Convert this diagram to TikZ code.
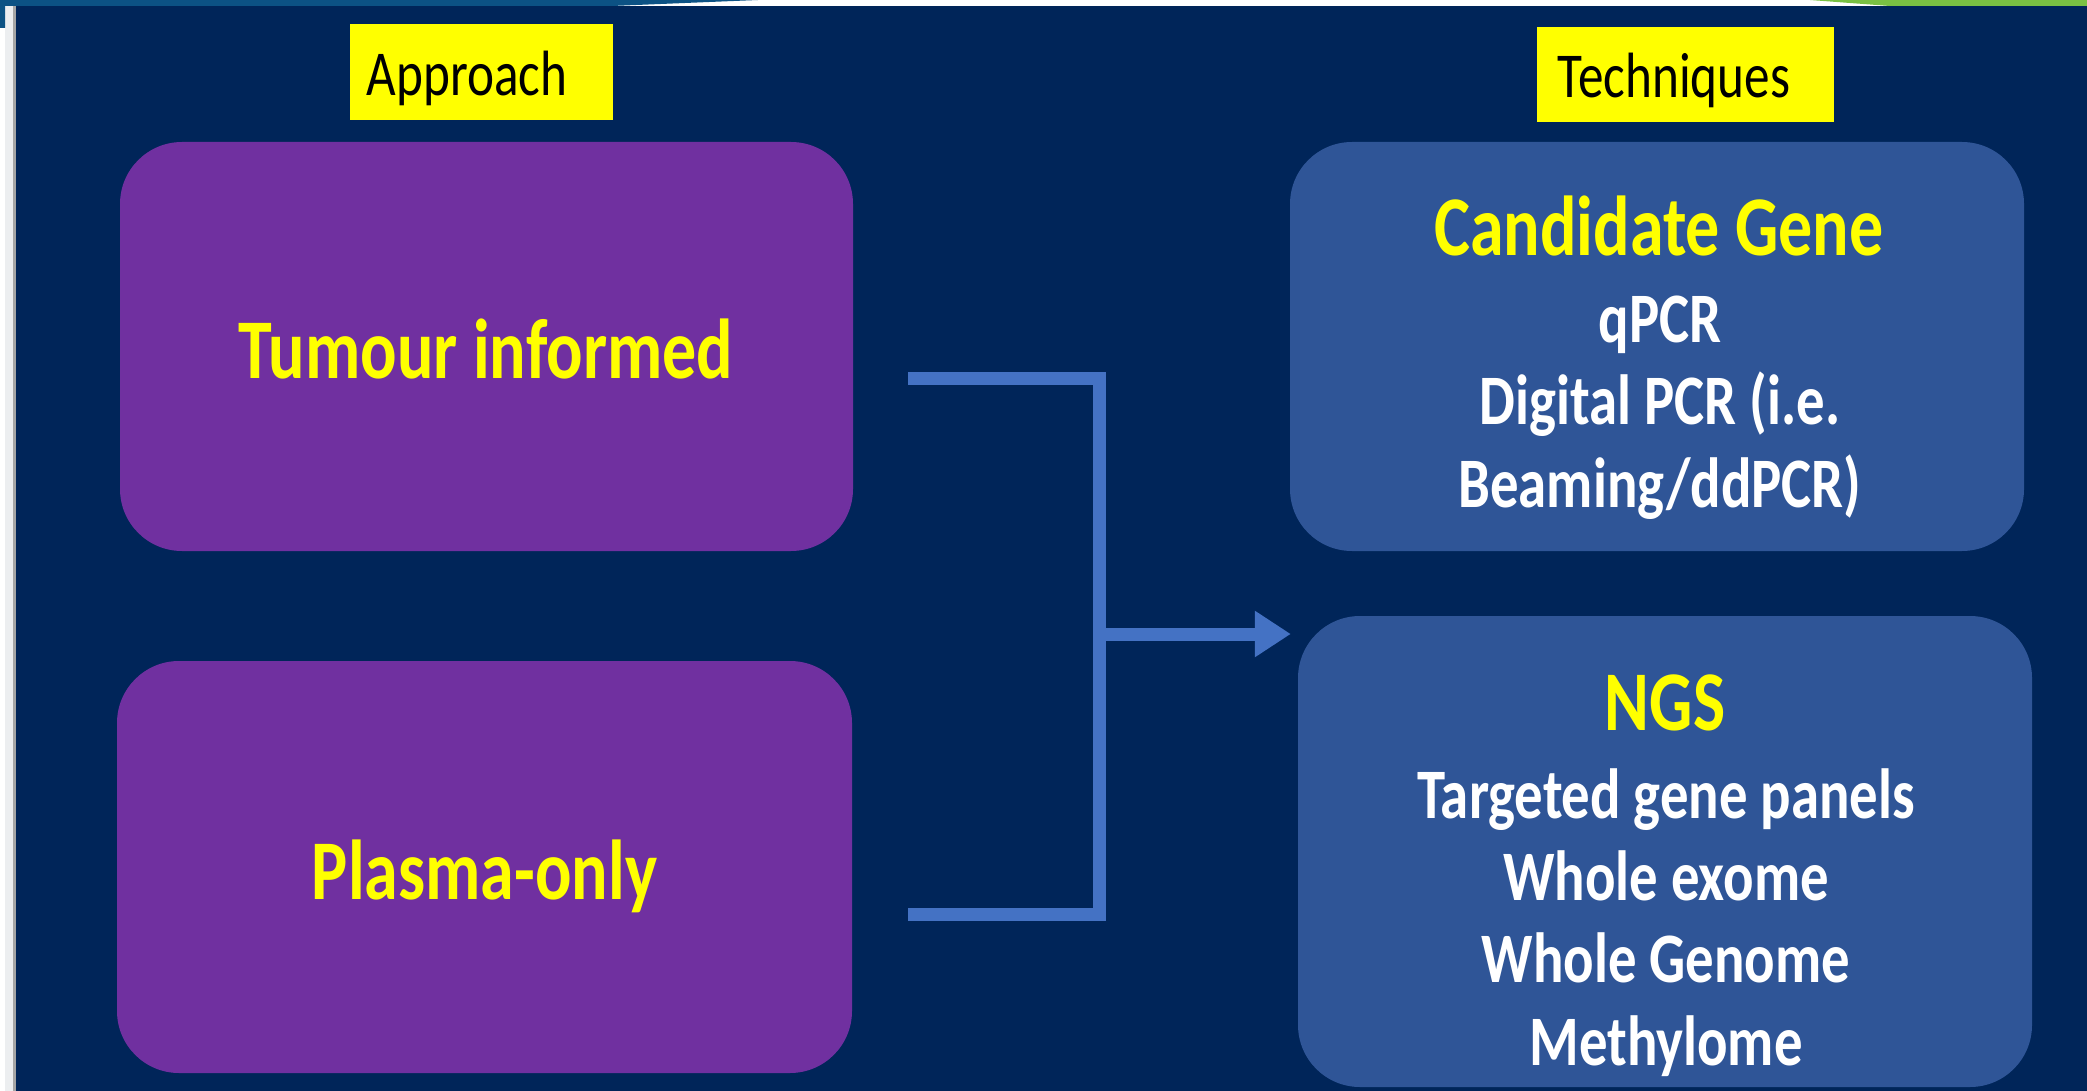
\documentclass[tikz,border=0pt]{standalone}
\usepackage{fontspec}
\setmainfont{Carlito}[FakeStretch=0.8]
\usetikzlibrary{arrows.meta,calc}

\definecolor{navybg}{RGB}{0,37,89}
\definecolor{bandblue}{RGB}{12,82,132}
\definecolor{bandgreen}{RGB}{122,193,67}
\definecolor{edgestrip}{RGB}{236,238,240}
\definecolor{approachpurple}{RGB}{112,48,160}
\definecolor{techblue}{RGB}{47,85,151}
\definecolor{linkblue}{RGB}{68,114,196}
\definecolor{hiyellow}{RGB}{255,255,0}

\tikzset{
  panel/.style={rounded corners=62pt, inner sep=0pt, draw=none},
  approachbox/.style={panel, fill=approachpurple},
  techbox/.style={panel, fill=techblue},
  tagbox/.style={fill=hiyellow, inner sep=0pt, draw=none},
  tagtext/.style={anchor=base, inner sep=0pt, text=black,
    font=\fontsize{64}{70}\selectfont},
  headtext/.style={anchor=base, inner sep=0pt, text=hiyellow,
    font=\bfseries\fontsize{85}{95}\selectfont},
  bodytext/.style={anchor=base, inner sep=0pt, text=white,
    font=\bfseries\fontsize{71}{80}\selectfont},
  link/.style={draw=linkblue, line width=13pt, line join=miter, line cap=butt},
}

\begin{document}
\begin{tikzpicture}[x=1pt,y=-1pt]
\useasboundingbox (0,0) rectangle (2087,1091);

% slide background and header band
\fill[white] (0,0) rectangle (2087,1091);
\fill[navybg] (16,6) rectangle (2087,1091);
\fill[edgestrip] (5,6) rectangle (16,1091);
\fill[black!35] (13,6) rectangle (16,1091);
\fill[bandblue] (0,0) -- (758,0) -- (612,6) -- (5,6) -- (5,28) -- (0,28) -- cycle;
\fill[bandgreen] (1810,0) -- (2087,0) -- (2087,6) -- (1890,6) -- cycle;

% column headings
\node[tagbox, minimum width=263pt, minimum height=96pt] (apptag) at (481.5,72) {};
\node[tagtext] (apptxt) at (467,96) {Approach};
\node[tagbox, minimum width=297pt, minimum height=95pt] (techtag) at (1685.5,74.5) {};
\node[tagtext] (techtxt) at (1674,98) {Techniques};

% approach boxes
\node[approachbox, minimum width=733pt, minimum height=409pt] (tumour) at (486.5,346.5) {};
\node[headtext] (tumourtxt) at (486,378) {Tumour informed};
\node[approachbox, minimum width=735pt, minimum height=412pt] (plasma) at (484.5,867) {};
\node[headtext] (plasmatxt) at (484.5,899) {Plasma-only};

% technique boxes
\node[techbox, minimum width=734pt, minimum height=409pt] (cand) at (1657,346.5) {};
\node[headtext] (candh) at (1659,255) {Candidate Gene};
\node[bodytext] (cand1) at (1660,342) {qPCR};
\node[bodytext] (cand2) at (1660,424.5) {Digital PCR (i.e.};
\node[bodytext] (cand3) at (1660,507) {Beaming/ddPCR)};

\node[techbox, minimum width=734pt, minimum height=471pt] (ngs) at (1665,851.5) {};
\node[headtext] (ngsh) at (1665,730) {NGS};
\node[bodytext] (ngs1) at (1666,818) {Targeted gene panels};
\node[bodytext] (ngs2) at (1666,900) {Whole exome};
\node[bodytext] (ngs3) at (1666,982.5) {Whole Genome};
\node[bodytext] (ngs4) at (1666,1065) {Methylome};

% bracket joining both approaches into the techniques
\coordinate (tin) at ($(tumour.east |- 0,378)+(55,0)$);
\coordinate (pin) at ($(plasma.east |- 0,914)+(56,0)$);
\coordinate (jtop) at (1099,378);
\coordinate (jbot) at (1099,914);
\coordinate (jmid) at (1099,634);
\coordinate (tip) at ($(cand.west |- 0,634)+(1,0)$);
\draw[link] (tin) -- (jtop) -- (jbot) -- (pin);
\draw[link, -{Triangle[length=36pt,width=44pt]}] (jmid) -- (tip);
\end{tikzpicture}
\end{document}
